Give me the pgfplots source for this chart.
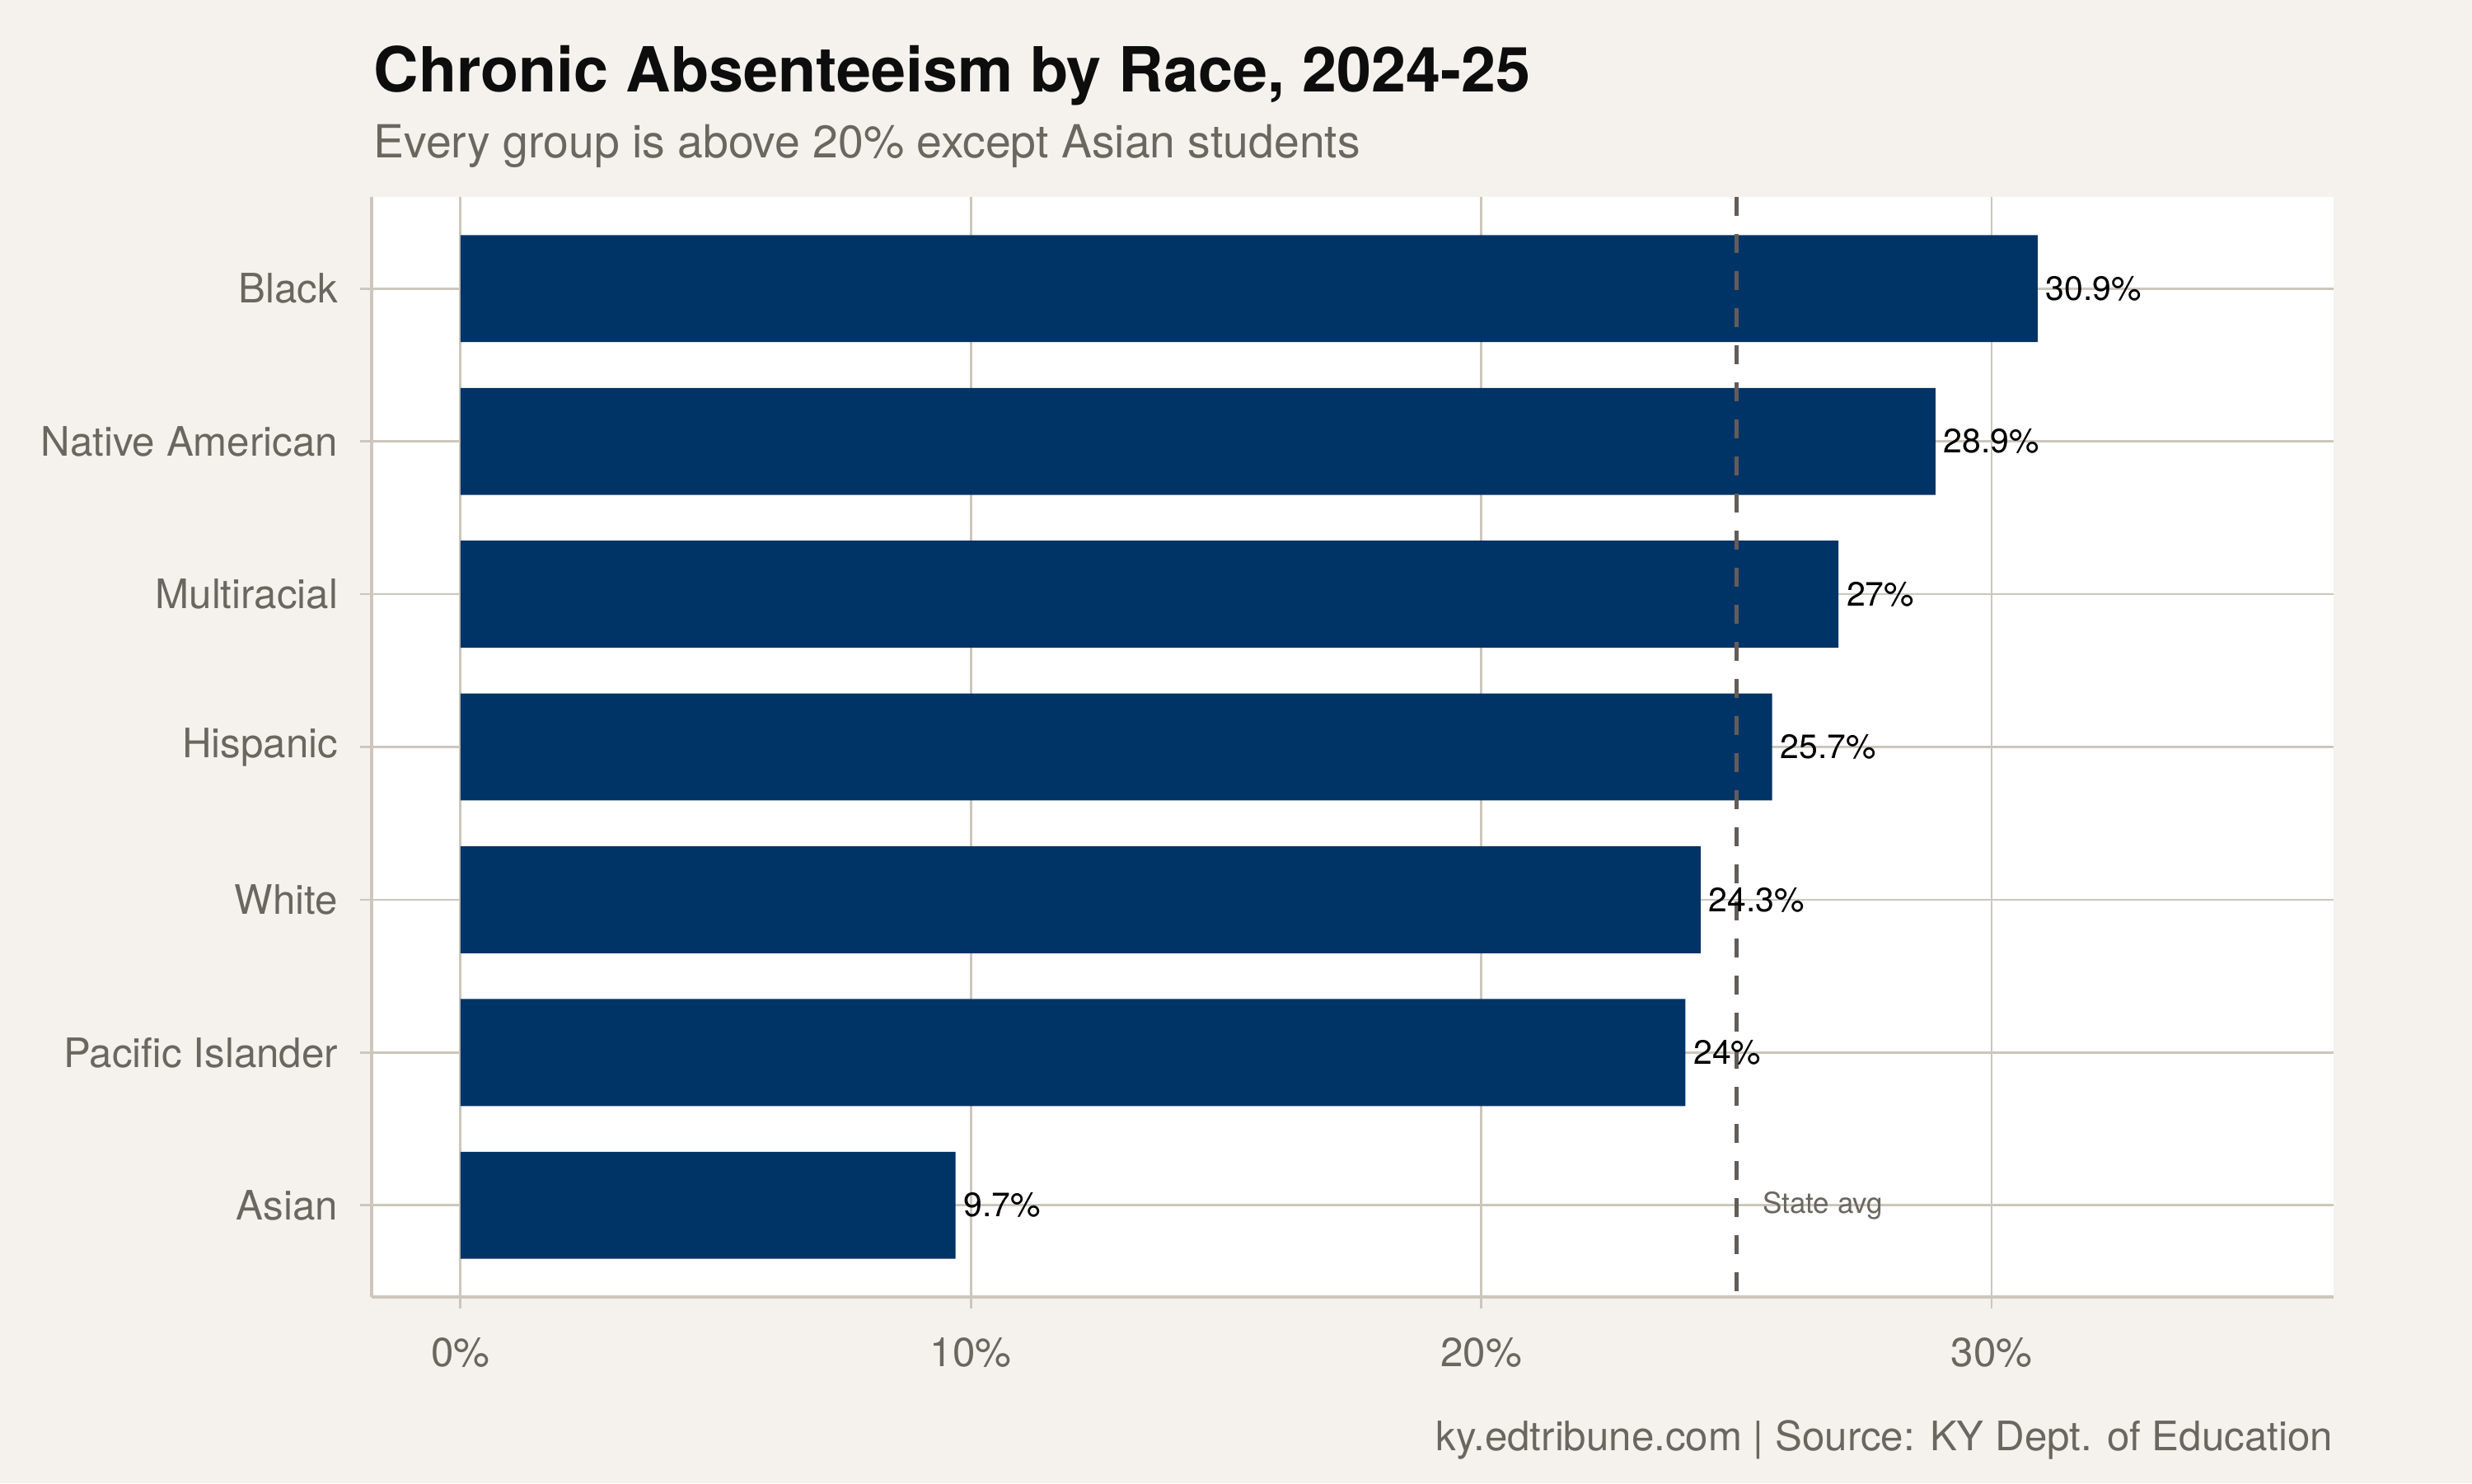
\documentclass[border=0pt]{standalone}
\usepackage{pgfplots}
\pgfplotsset{compat=1.18}
\usepackage{fontspec}
\setmainfont{TeX Gyre Heros}
\definecolor{bgc}{HTML}{F5F2ED}
\definecolor{navy}{HTML}{003366}
\definecolor{gridc}{HTML}{CCC6BC}
\definecolor{txtgray}{HTML}{6B6660}
\definecolor{dashc}{HTML}{625D58}
\begin{document}
\begin{tikzpicture}
\path[use as bounding box, fill=bgc] (0,0) rectangle (600pt,360pt);
\begin{axis}[
  at={(90.2pt,45.2pt)}, anchor=south west,
  scale only axis, width=476.2pt, height=267pt,
  /pgf/number format/assume math mode=true,
  xmin=-1.74, xmax=36.7, ymin=0.4, ymax=7.6,
  axis background/.style={fill=white},
  axis x line*=bottom, axis y line*=left,
  axis line style={draw=gridc, line width=0.7pt},
  xtick={0,10,20,30}, xticklabels={0\%,10\%,20\%,30\%},
  ytick={1,...,7},
  yticklabels={Asian,Pacific Islander,White,Hispanic,Multiracial,Native American,Black},
  grid=major, major grid style={draw=gridc, line width=0.55pt},
  tick align=outside, major tick length=2.8pt,
  tick style={draw=gridc, line width=0.55pt},
  ticklabel style={font=\fontsize{9.85}{11}\selectfont, text=txtgray},
  xticklabel style={anchor=north, inner sep=0pt, yshift=-6.9pt},
  yticklabel style={anchor=east, inner sep=0pt, xshift=-5.2pt},
  clip=false,
]
\addplot[xbar, bar width=0.7, fill=navy, draw=none,
  nodes near coords={\pgfmathprintnumber{\pgfplotspointmeta}\%},
  every node near coord/.append style={anchor=west, inner sep=0pt, xshift=1.8pt,
    font=\fontsize{8.2}{10}\selectfont, text=black}]
  coordinates {(9.7,1) (24,2) (24.3,3) (25.7,4) (27,5) (28.9,6) (30.9,7)};
\addplot[sharp plot, no marks, draw=dashc, line width=0.95pt,
  dash pattern=on 4.5pt off 4.5pt]
  coordinates {(25,7.6) (25,0.4)};
\node[anchor=west, inner sep=0pt, font=\fontsize{7}{8}\selectfont, text=txtgray]
  at (axis cs:25.5,1) {State avg};
\end{axis}
\node[anchor=base west, inner sep=0pt, font=\fontsize{15.1}{18}\selectfont\bfseries, text=black!95]
  at (90.5pt,337.7pt) {Chronic Absenteeism by Race, 2024-25};
\node[anchor=base west, inner sep=0pt, font=\fontsize{11.07}{13}\selectfont, text=txtgray]
  at (90.5pt,321.7pt) {Every group is above 20\% except Asian students};
\node[anchor=base east, inner sep=0pt, font=\fontsize{9.85}{12}\selectfont, text=txtgray]
  at (566.4pt,8pt) {ky.edtribune.com | Source: KY Dept. of Education};
\end{tikzpicture}
\end{document}
